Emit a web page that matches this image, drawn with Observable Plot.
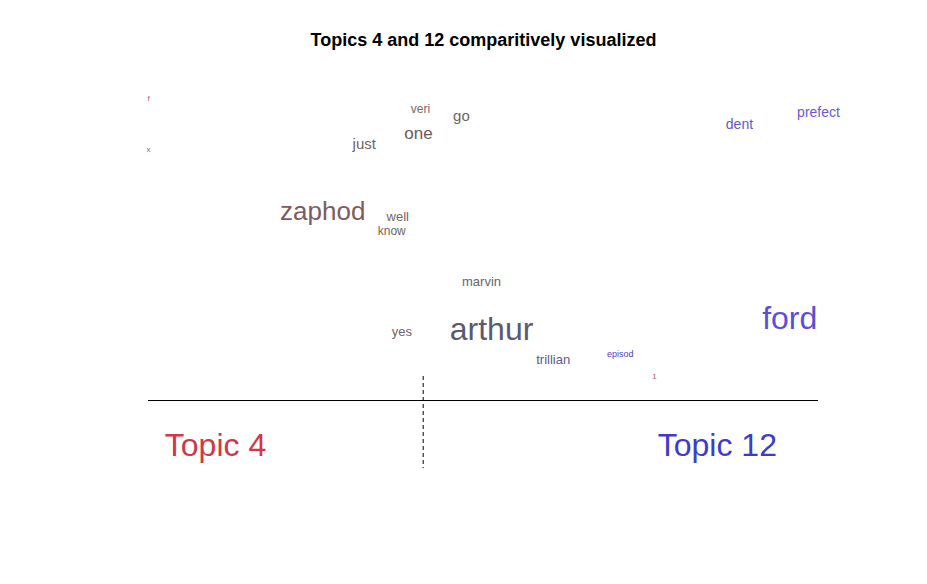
<!DOCTYPE html>
<html><head><meta charset="utf-8">
<script src="https://cdn.jsdelivr.net/npm/d3@7"></script>
<script src="https://cdn.jsdelivr.net/npm/@observablehq/plot@0.6"></script>
<style>body{margin:0;background:#fff;font-family:"Liberation Sans",Arial,sans-serif}</style>
</head><body><div id="chart"></div>
<script>
const words = ["f","x","veri","go","one","just","dent","prefect","zaphod","well","know","marvin","arthur","ford","yes","trillian","episod","1"];
const xs = [0,0,.406,.467,.403,.322,.882,1.0,.26,.372,.363,.497,.512,.957,.378,.604,.704,.755];
const ys = [1.007,.837,.97,.947,.89,.853,.92,.96,.63,.612,.565,.397,.237,.273,.23,.137,.153,.08];
const sizes = [8,8,12,15,17,15,14,14,26,13,12,13,32,32,13,13,9,8];
const colors = ["#c0506a","#c0506a","#7a6a6a","#6e6464","#6a5a5a","#6e6464","#6655cc","#6a5ad8","#7a5c60","#6e6464","#6e6464","#646470","#5a5a70","#5a50d8","#6e6464","#5a5a90","#5040c0","#c0506a"];
const data = words.map((w,i)=>({w,x:xs[i],y:ys[i],s:sizes[i],c:colors[i]}));
const topics = [{t:"Topic 4",x:.1,y:-.15,c:"#d03848"},{t:"Topic 12",x:.849,y:-.15,c:"#3c3cc8"}];
const split = .41;
const plot = Plot.plot({
  width:927,height:584,margin:0,
  style:{fontFamily:"'Liberation Sans', Arial, sans-serif",background:"#fff"},
  x:{domain:[0,1],range:[148,818],axis:null},
  y:{domain:[0,1],range:[400,100],axis:null},
  marks:[
    Plot.ruleY([0],{x1:0,x2:1,stroke:"#000"}),
    Plot.ruleX([split],{y1:.08,y2:-.227,stroke:"#000",strokeDasharray:"4,3"}),
    ...data.map(d=>Plot.text([d],{x:"x",y:"y",text:"w",fill:d.c,fontSize:d.s,lineAnchor:"middle"})),
    ...topics.map(d=>Plot.text([d],{x:"x",y:"y",text:"t",fill:d.c,fontSize:32,lineAnchor:"middle"})),
    Plot.text([{x:.5,y:1.2,t:"Topics 4 and 12 comparitively visualized"}],{x:"x",y:"y",text:"t",fontSize:18,fontWeight:"bold",fill:"#000",lineAnchor:"middle"})
  ]
});
document.getElementById("chart").append(plot);
</script></body></html>
